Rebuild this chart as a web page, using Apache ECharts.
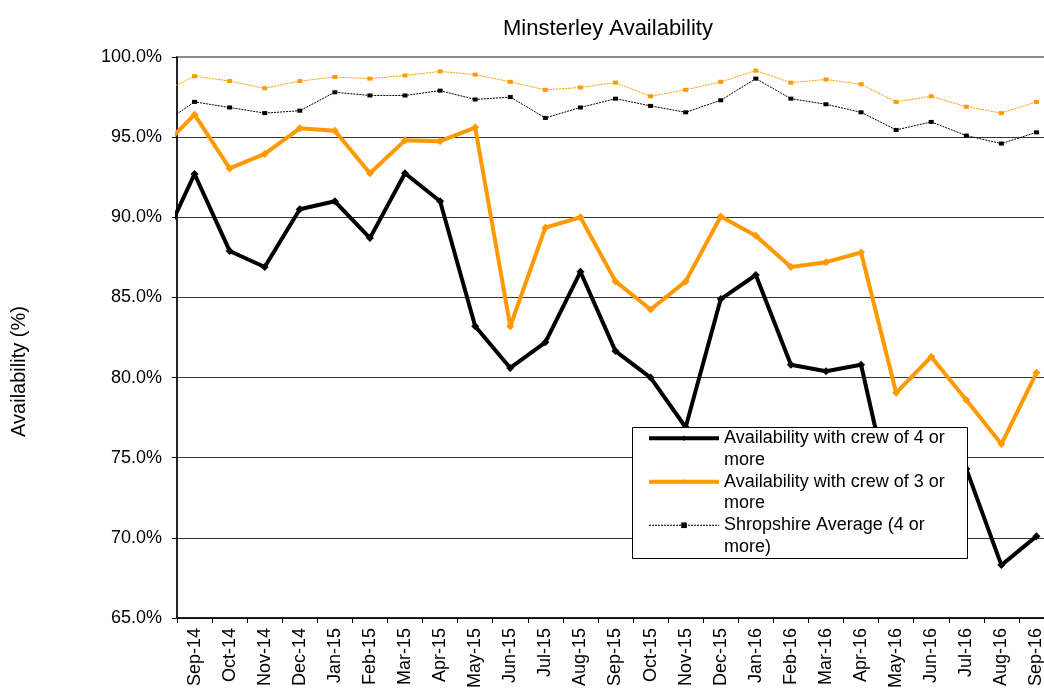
<!DOCTYPE html>
<html>
<head>
<meta charset="utf-8">
<title>Minsterley Availability</title>
<script src="https://cdn.jsdelivr.net/npm/echarts@6/dist/echarts.min.js"></script>
<style>
  html, body { margin: 0; padding: 0; background: #fff; }
  #chart { width: 1044px; height: 689px; }
</style>
</head>
<body>
<div id="chart"></div>
<script>
// Months: the first entry (Aug-14) sits just left of the plot and only its connecting segment shows
const months = ['Aug-14', 'Sep-14', 'Oct-14', 'Nov-14', 'Dec-14', 'Jan-15', 'Feb-15', 'Mar-15', 'Apr-15',
  'May-15', 'Jun-15', 'Jul-15', 'Aug-15', 'Sep-15', 'Oct-15', 'Nov-15', 'Dec-15', 'Jan-16', 'Feb-16',
  'Mar-16', 'Apr-16', 'May-16', 'Jun-16', 'Jul-16', 'Aug-16', 'Sep-16'];

// Availability (%) per month
const crewFourPlus = [88.0, 92.7, 87.9, 86.9, 90.5, 91.0, 88.7, 92.75, 91.0, 83.2, 80.6, 82.2, 86.6,
  81.65, 80.0, 76.9, 84.9, 86.4, 80.8, 80.4, 80.8, 71.1, 72.5, 74.3, 68.3, 70.1];
const crewThreePlus = [94.2, 96.4, 93.05, 93.95, 95.55, 95.4, 92.75, 94.8, 94.75, 95.6, 83.2, 89.35, 90.0,
  86.0, 84.25, 86.0, 90.05, 88.85, 86.9, 87.2, 87.8, 79.05, 81.3, 78.6, 75.85, 80.3];
const shropshireFourPlus = [95.7, 97.2, 96.85, 96.5, 96.65, 97.8, 97.6, 97.6, 97.9, 97.35, 97.5, 96.2, 96.85,
  97.4, 96.95, 96.55, 97.3, 98.65, 97.4, 97.05, 96.55, 95.45, 95.95, 95.1, 94.6, 95.3];
const shropshireThreePlus = [97.7, 98.8, 98.5, 98.05, 98.5, 98.75, 98.65, 98.85, 99.1, 98.9, 98.45, 97.95, 98.1,
  98.4, 97.55, 97.95, 98.45, 99.15, 98.4, 98.6, 98.3, 97.2, 97.55, 96.9, 96.5, 97.2];

// Y axis ticks (%)
const yTicks = [65, 70, 75, 80, 85, 90, 95, 100];

const seriesNames = [
  'Availability with crew of 4 or more',
  'Availability with crew of 3 or more',
  'Shropshire Average (4 or more)',
  'Shropshire Average (3 or more)'
];

const FONT = "'Liberation Sans', Arial, sans-serif";
const ORANGE = '#FF9900';
const DOTS = [2, 1];

const toPoints = arr => arr.map((v, i) => [i, v]);

// label positions at month centres, ticks at month boundaries
const labelPositions = months.map((m, i) => i).filter(i => i >= 1);
const tickPositions = labelPositions.map(i => i - 0.5).concat([months.length - 0.5]);

const chart = echarts.init(document.getElementById('chart'), null, { renderer: 'canvas' });

chart.setOption({
  animation: false,
  backgroundColor: '#ffffff',
  textStyle: { fontFamily: FONT, color: '#000' },
  title: {
    text: 'Minsterley Availability',
    left: 503,
    top: 18,
    padding: 0,
    textStyle: { fontFamily: FONT, fontSize: 22, fontWeight: 'normal', color: '#000' }
  },
  grid: {
    left: 177, top: 57, width: 877, height: 561,
    outerBoundsMode: 'none',
    containLabel: false,
    show: true, borderColor: '#8c8c8c', borderWidth: 2, backgroundColor: 'transparent'
  },
  xAxis: {
    type: 'value',
    min: 0.5,
    max: months.length - 0.5,
    axisLine: { show: true, onZero: false, lineStyle: { color: '#000', width: 1.5 } },
    axisTick: { show: true, length: 5, customValues: tickPositions, lineStyle: { color: '#000', width: 1 } },
    axisLabel: {
      customValues: labelPositions,
      rotate: 90,
      margin: 10,
      fontSize: 18,
      fontFamily: FONT,
      color: '#000',
      formatter: v => months[Math.round(v)] || ''
    },
    splitLine: { show: false }
  },
  yAxis: {
    type: 'value',
    min: yTicks[0],
    max: yTicks[yTicks.length - 1],
    interval: 5,
    name: 'Availability (%)',
    nameLocation: 'middle',
    nameGap: 148,
    nameTextStyle: { fontFamily: FONT, fontSize: 20, color: '#000', padding: [0, 68, 0, 0] },
    axisLine: { show: true, lineStyle: { color: '#000', width: 1.5 } },
    axisTick: { show: true, length: 5, lineStyle: { color: '#000' } },
    axisLabel: {
      margin: 15,
      fontSize: 18,
      fontFamily: FONT,
      color: '#000',
      formatter: v => v.toFixed(1) + '%'
    },
    splitLine: {
      show: true,
      lineStyle: { color: ['#333', '#333', '#333', '#333', '#333', '#333', '#333', '#8c8c8c'], width: 1 }
    }
  },
  legend: {
    orient: 'vertical',
    left: 647,
    top: 406,
    padding: 0,
    itemGap: -21,
    itemWidth: 70,
    itemHeight: 7,
    data: [
      { name: seriesNames[0], lineStyle: { width: 4 } },
      { name: seriesNames[1], lineStyle: { width: 4 } },
      { name: seriesNames[2], lineStyle: { width: 1, type: DOTS } }
    ],
    // leading blank line keeps the icon level with the first text line
    formatter: name => '\n' + name,
    textStyle: {
      fontFamily: FONT,
      fontSize: 18,
      lineHeight: 21.5,
      color: '#000',
      width: 240,
      overflow: 'break'
    }
  },
  graphic: [{
    type: 'rect',
    left: 632,
    top: 427,
    z: 3,
    shape: { width: 335, height: 131 },
    style: { fill: '#fff', stroke: '#000', lineWidth: 1 }
  }],
  series: [
    {
      name: seriesNames[3],
      type: 'line',
      data: toPoints(shropshireThreePlus),
      z: 2,
      symbol: 'rect',
      symbolSize: [5, 4],
      lineStyle: { color: ORANGE, width: 1, type: DOTS },
      itemStyle: { color: ORANGE }
    },
    {
      name: seriesNames[2],
      type: 'line',
      data: toPoints(shropshireFourPlus),
      z: 2,
      symbol: 'rect',
      symbolSize: [5, 4],
      lineStyle: { color: '#000', width: 1, type: DOTS },
      itemStyle: { color: '#000' }
    },
    {
      name: seriesNames[1],
      type: 'line',
      data: toPoints(crewThreePlus),
      z: 2,
      symbol: 'diamond',
      symbolSize: 8,
      lineStyle: { color: ORANGE, width: 4 },
      itemStyle: { color: ORANGE }
    },
    {
      name: seriesNames[0],
      type: 'line',
      data: toPoints(crewFourPlus),
      z: 2,
      symbol: 'diamond',
      symbolSize: 8,
      lineStyle: { color: '#000', width: 4 },
      itemStyle: { color: '#000' }
    }
  ]
});
</script>
</body>
</html>
